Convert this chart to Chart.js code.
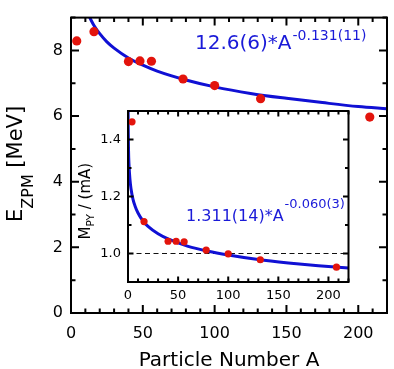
<!DOCTYPE html>
<html><head><meta charset="utf-8">
<script src="https://cdn.jsdelivr.net/npm/chart.js@4.4.1/dist/chart.umd.min.js"></script>
<style>
html,body{margin:0;padding:0;background:#fff;overflow:hidden}
#wrap{position:relative;width:394px;height:369px}
#wrap canvas{position:absolute;left:0;top:0}
</style></head><body>
<div id="wrap"><canvas id="main" width="394" height="369"></canvas><canvas id="inset" width="394" height="369"></canvas></div>
<script>
// ---------- data ----------
const massNumbers = [4, 16, 40, 48, 56, 78, 100, 132, 208];
const zpmEnergy   = [8.29, 8.57, 7.66, 7.68, 7.67, 7.13, 6.93, 6.53, 5.97];
const mpyRatio    = [1.462, 1.112, 1.043, 1.043, 1.041, 1.012, 0.999, 0.978, 0.952];

// fitted curves (as drawn)
const fitMainA = [10, 11, 12, 14, 16, 20, 25, 30, 40, 50, 60, 80, 100, 125, 150, 175, 200, 220];
const fitMainE = [9.32, 9.20, 9.10, 8.92, 8.76, 8.51, 8.26, 8.07, 7.77, 7.55, 7.37, 7.10, 6.89, 6.69, 6.54, 6.41, 6.29, 6.22];
const fitInsetA = [0.1, 0.2, 0.5, 1, 2, 3, 5, 7, 10, 15, 20, 30, 40, 60, 80, 100, 130, 160, 190, 220];
const fitInsetM = [1.505, 1.444, 1.367, 1.311, 1.258, 1.227, 1.190, 1.167, 1.142, 1.114, 1.095, 1.069, 1.051, 1.025, 1.008, 0.995, 0.979, 0.967, 0.957, 0.949];

const refLineValue = 1.0;

// tick labels
const mainXTicks  = [0, 50, 100, 150, 200];
const mainYTicks  = [0, 2, 4, 6, 8];
const insetXTicks = [0, 50, 100, 150, 200];
const insetYTicks = [1.0, 1.2, 1.4];

// text
const xTitle = 'Particle Number A';
const mainYTitle = ['E', 'ZPM', ' [MeV]'];
const insetYTitle = ['M', 'PY', ' / (mA)'];
const mainFit = ['12.6(6)*A', '-0.131(11)'];
const insetFit = ['1.311(14)*A', '-0.060(3)'];

// ---------- styles ----------
const F = "'DejaVu Sans', sans-serif";
const RED = '#e3140c';
const BLUE = '#1010d4';
const TXTBLUE = '#1a1ad8';

function minorList(min, max, step, majors) {
  const out = [];
  for (let v = min; v <= max + 1e-9; v += step) {
    const r = Math.round(v * 1000) / 1000;
    if (!majors.some(m => Math.abs(m - r) < 1e-6)) out.push(r);
  }
  return out;
}

function frameAndTicks(chart, o) {
  const {ctx, chartArea: a, scales: {x, y}} = chart;
  ctx.save();
  ctx.strokeStyle = '#000';
  ctx.lineWidth = o.tickWidth;
  ctx.beginPath();
  const xt = (v, len) => {
    const p = x.getPixelForValue(v);
    ctx.moveTo(p, a.bottom); ctx.lineTo(p, a.bottom - len);
    ctx.moveTo(p, a.top); ctx.lineTo(p, a.top + len);
  };
  const yt = (v, len) => {
    const p = y.getPixelForValue(v);
    ctx.moveTo(a.left, p); ctx.lineTo(a.left + len, p);
    ctx.moveTo(a.right, p); ctx.lineTo(a.right - len, p);
  };
  o.xMajor.forEach(v => xt(v, o.major));
  o.xMinor.forEach(v => xt(v, o.minor));
  o.yMajor.forEach(v => yt(v, o.major));
  o.yMinor.forEach(v => yt(v, o.minor));
  ctx.stroke();
  ctx.lineWidth = o.frameWidth;
  ctx.strokeRect(a.left, a.top, a.right - a.left, a.bottom - a.top);
  ctx.restore();
}

function rotatedSubTitle(ctx, parts, x, y, big, small, subOff) {
  ctx.save();
  ctx.translate(x, y);
  ctx.rotate(-Math.PI / 2);
  ctx.fillStyle = '#000';
  ctx.textAlign = 'left';
  ctx.textBaseline = 'alphabetic';
  ctx.font = big + 'px ' + F;
  ctx.fillText(parts[0], 0, 0);
  let cx = ctx.measureText(parts[0]).width;
  ctx.font = small + 'px ' + F;
  ctx.fillText(parts[1], cx, subOff);
  cx += ctx.measureText(parts[1]).width;
  ctx.font = big + 'px ' + F;
  ctx.fillText(parts[2], cx, 0);
  ctx.restore();
}

function supText(ctx, parts, x, y, big, small, supY) {
  ctx.save();
  ctx.fillStyle = TXTBLUE;
  ctx.textAlign = 'left';
  ctx.textBaseline = 'alphabetic';
  ctx.font = big + 'px ' + F;
  ctx.fillText(parts[0], x, y);
  const w = ctx.measureText(parts[0]).width;
  ctx.font = small + 'px ' + F;
  ctx.fillText(parts[1], x + w + 1, supY);
  ctx.restore();
}

const setTicks = arr => s => { s.ticks = arr.map(v => ({value: v})); };

// ---------- main chart ----------
const mainDecor = {
  id: 'mainDecor',
  afterDraw(chart) {
    const ctx = chart.ctx, a = chart.chartArea;
    frameAndTicks(chart, {
      tickWidth: 2, frameWidth: 2, major: 8, minor: 4.5,
      xMajor: mainXTicks, xMinor: minorList(0, 220, 10, mainXTicks),
      yMajor: mainYTicks, yMinor: minorList(0, 9, 1, mainYTicks)
    });
    // x title
    ctx.save();
    ctx.fillStyle = '#000';
    ctx.font = '20px ' + F;
    ctx.textAlign = 'center';
    ctx.textBaseline = 'alphabetic';
    ctx.fillText(xTitle, (a.left + a.right) / 2, 366);
    ctx.restore();
    rotatedSubTitle(ctx, mainYTitle, 22, 222, 21, 16, 10.5);
    supText(ctx, mainFit, 195, 49, 20, 14, 40);
  }
};

new Chart(document.getElementById('main'), {
  type: 'scatter',
  data: {
    datasets: [
      {
        data: fitMainA.map((a, i) => ({x: a, y: fitMainE[i]})),
        showLine: true, borderColor: BLUE, borderWidth: 3, pointRadius: 0,
        cubicInterpolationMode: 'monotone', order: 2
      },
      {
        data: massNumbers.map((a, i) => ({x: a, y: zpmEnergy[i]})),
        showLine: false, pointRadius: 4.6, backgroundColor: RED, borderWidth: 0, order: 1
      }
    ]
  },
  options: {
    responsive: false, animation: false, devicePixelRatio: 1,
    layout: {padding: {top: 5, right: 7, left: 0, bottom: 0}},
    plugins: {legend: {display: false}, tooltip: {enabled: false}},
    scales: {
      x: {
        type: 'linear', min: 0, max: 220,
        afterBuildTicks: setTicks(mainXTicks),
        afterFit: s => { s.height = 56; },
        grid: {display: false, drawTicks: false}, border: {display: false},
        ticks: {color: '#000', font: {family: F, size: 16}, padding: 11, maxRotation: 0}
      },
      y: {
        type: 'linear', min: 0, max: 9,
        afterBuildTicks: setTicks(mainYTicks),
        afterFit: s => { s.width = 71; },
        grid: {display: false, drawTicks: false}, border: {display: false},
        ticks: {color: '#000', font: {family: F, size: 16}, padding: 8}
      }
    }
  },
  plugins: [mainDecor]
});

// ---------- inset chart ----------
const insetDecor = {
  id: 'insetDecor',
  beforeDraw(chart) {
    const {ctx, chartArea: a} = chart;
    ctx.save();
    ctx.fillStyle = '#fff';
    ctx.fillRect(a.left, a.top, a.right - a.left, a.bottom - a.top);
    ctx.restore();
  },
  beforeDatasetsDraw(chart) {
    const {ctx, chartArea: a, scales: {x, y}} = chart;
    ctx.save();
    ctx.strokeStyle = '#111';
    ctx.lineWidth = 1.2;
    ctx.setLineDash([5, 3.5]);
    const p = y.getPixelForValue(refLineValue);
    ctx.beginPath();
    ctx.moveTo(x.getPixelForValue(0), p);
    ctx.lineTo(x.getPixelForValue(220), p);
    ctx.stroke();
    ctx.restore();
  },
  afterDraw(chart) {
    const ctx = chart.ctx;
    frameAndTicks(chart, {
      tickWidth: 2, frameWidth: 2, major: 5.5, minor: 3.5,
      xMajor: insetXTicks, xMinor: minorList(0, 220, 10, insetXTicks),
      yMajor: insetYTicks, yMinor: minorList(0.9, 1.5, 0.1, insetYTicks)
    });
    rotatedSubTitle(ctx, insetYTitle, 89.5, 239.5, 15, 10.5, 4);
    supText(ctx, insetFit, 186, 220.7, 16, 13, 208);
  }
};

new Chart(document.getElementById('inset'), {
  type: 'scatter',
  data: {
    datasets: [
      {
        data: fitInsetA.map((a, i) => ({x: a, y: fitInsetM[i]})),
        showLine: true, borderColor: BLUE, borderWidth: 3, pointRadius: 0,
        cubicInterpolationMode: 'monotone', order: 2
      },
      {
        data: massNumbers.map((a, i) => ({x: a, y: mpyRatio[i]})),
        showLine: false, pointRadius: 3.6, backgroundColor: RED, borderWidth: 0, order: 1
      }
    ]
  },
  options: {
    responsive: false, animation: false, devicePixelRatio: 1,
    layout: {padding: {top: 111, right: 45.5, left: 0, bottom: 0}},
    plugins: {legend: {display: false}, tooltip: {enabled: false}},
    scales: {
      x: {
        type: 'linear', min: 0, max: 220,
        afterBuildTicks: setTicks(insetXTicks),
        afterFit: s => { s.height = 87; },
        grid: {display: false, drawTicks: false}, border: {display: false},
        ticks: {color: '#000', font: {family: F, size: 13}, padding: 6, maxRotation: 0}
      },
      y: {
        type: 'linear', min: 0.9, max: 1.5,
        afterBuildTicks: setTicks(insetYTicks),
        afterFit: s => { s.width = 128; },
        grid: {display: false, drawTicks: false}, border: {display: false},
        ticks: {color: '#000', font: {family: F, size: 13}, padding: 7,
                callback: v => Number(v).toFixed(1)}
      }
    }
  },
  plugins: [insetDecor]
});
</script>
</body></html>
